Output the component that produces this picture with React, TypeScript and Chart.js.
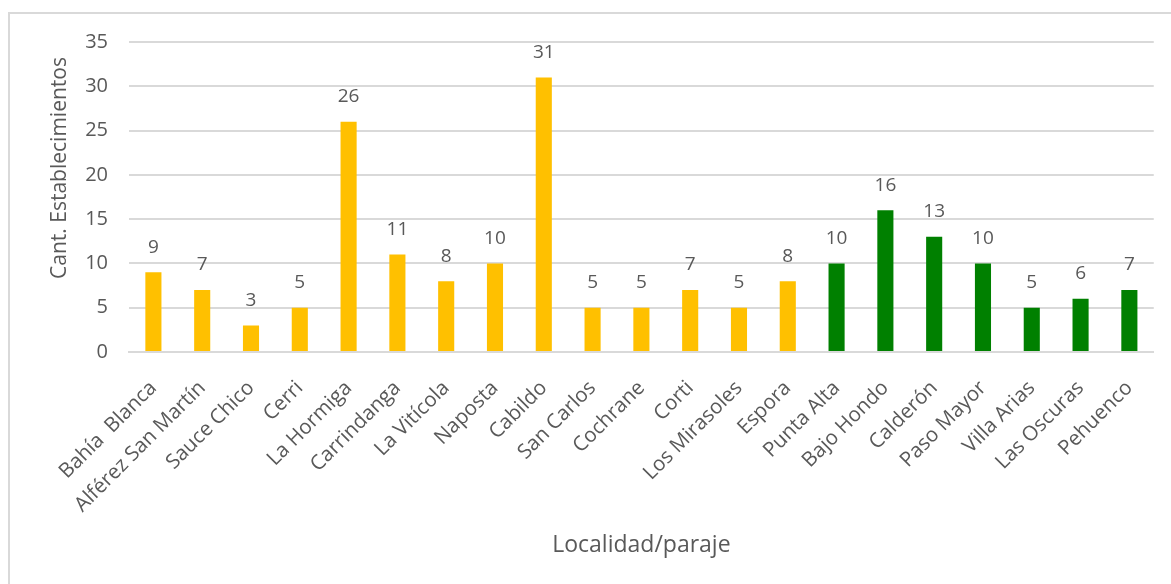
import React, { useEffect, useRef } from "react";
import { Chart, registerables } from "chart.js";

Chart.register(...registerables);

const categories = [
  "Bahía  Blanca",
  "Alférez San Martín",
  "Sauce Chico",
  "Cerri",
  "La Hormiga",
  "Carrindanga",
  "La Vitícola",
  "Naposta",
  "Cabildo",
  "San Carlos",
  "Cochrane",
  "Corti",
  "Los Mirasoles",
  "Espora",
  "Punta Alta",
  "Bajo Hondo",
  "Calderón",
  "Paso Mayor",
  "Villa Arias",
  "Las Oscuras",
  "Pehuenco",
];

const values = [9, 7, 3, 5, 26, 11, 8, 10, 31, 5, 5, 7, 5, 8, 10, 16, 13, 10, 5, 6, 7];

// group per category: "a" = yellow, "b" = green
const groups = ["a", "a", "a", "a", "a", "a", "a", "a", "a", "a", "a", "a", "a", "a", "b", "b", "b", "b", "b", "b", "b"];

const yTicks = [0, 5, 10, 15, 20, 25, 30, 35];

const yTitle = "Cant. Establecimientos";
const xTitle = "Localidad/paraje";

const YELLOW = "#FFC000";
const GREEN = "#008000";
const TEXT = "#595959";
const FONT = "'Open Sans', sans-serif";

const framePlugin = {
  id: "frame",
  beforeDraw(chart: any) {
    const ctx = chart.ctx;
    ctx.save();
    ctx.fillStyle = "#ffffff";
    ctx.fillRect(0, 0, chart.width, chart.height);
    ctx.strokeStyle = "#d9d9d9";
    ctx.lineWidth = 2;
    ctx.strokeRect(9, 13, chart.width + 20, chart.height + 20);
    ctx.restore();
  },
};

// y-axis title, placed as in the reference (not centred on the plot area)
const yTitlePlugin = {
  id: "yTitle",
  afterDraw(chart: any) {
    const ctx = chart.ctx;
    ctx.save();
    ctx.fillStyle = TEXT;
    ctx.font = `21px ${FONT}`;
    ctx.textAlign = "center";
    ctx.textBaseline = "middle";
    ctx.translate(60, 168);
    ctx.rotate(-Math.PI / 2);
    ctx.fillText(yTitle, 0, 0);
    ctx.restore();
  },
};

const labelPlugin = {
  id: "barLabels",
  afterDatasetsDraw(chart: any) {
    const ctx = chart.ctx;
    const meta = chart.getDatasetMeta(0);
    ctx.save();
    ctx.fillStyle = TEXT;
    ctx.font = `19px ${FONT}`;
    ctx.textAlign = "center";
    ctx.textBaseline = "middle";
    meta.data.forEach((bar: any, i: number) => {
      ctx.fillText(String(values[i]), bar.x, bar.y - 25);
    });
    ctx.restore();
  },
};

export default function App() {
  const ref = useRef<HTMLCanvasElement>(null);

  useEffect(() => {
    if (!ref.current) return;
    const chart = new Chart(ref.current, {
      type: "bar",
      data: {
        labels: categories,
        datasets: [
          {
            data: values,
            backgroundColor: groups.map((g) => (g === "a" ? YELLOW : GREEN)),
            categoryPercentage: 1,
            barPercentage: 0.33,
          },
        ],
      },
      options: {
        animation: false,
        responsive: false,
        maintainAspectRatio: false,
        layout: { padding: { left: 45, right: 10, top: 42, bottom: 21 } },
        plugins: {
          legend: { display: false },
          tooltip: { enabled: false },
        },
        scales: {
          x: {
            grid: { display: false, drawTicks: false },
            border: { display: true, color: "#d9d9d9", width: 2 },
            ticks: {
              color: TEXT,
              font: { family: FONT, size: 20.5 },
              minRotation: 45,
              maxRotation: 45,
              autoSkip: false,
              padding: 24,
            },
            title: {
              display: true,
              text: xTitle,
              color: TEXT,
              font: { family: FONT, size: 23 },
              padding: { top: 4, bottom: 4 },
            },
            afterFit: (scale: any) => {
              scale.height = 211;
            },
          },
          y: {
            min: 0,
            max: 35,
            afterBuildTicks: (scale: any) => {
              scale.ticks = yTicks.map((v) => ({ value: v }));
            },
            grid: { color: "#d9d9d9", lineWidth: 2, drawTicks: false },
            border: { display: false },
            ticks: {
              color: TEXT,
              font: { family: FONT, size: 20 },
              padding: 21,
            },
            title: { display: false },
            afterFit: (scale: any) => {
              scale.width = 129 - 45;
            },
          },
        },
      },
      plugins: [framePlugin, labelPlugin, yTitlePlugin],
    });
    return () => chart.destroy();
  }, []);

  return (
    <div style={{ position: "fixed", left: 0, top: 0, width: 1171, height: 584, background: "#fff" }}>
      <canvas ref={ref} width={1171} height={584} style={{ display: "block" }} />
    </div>
  );
}
